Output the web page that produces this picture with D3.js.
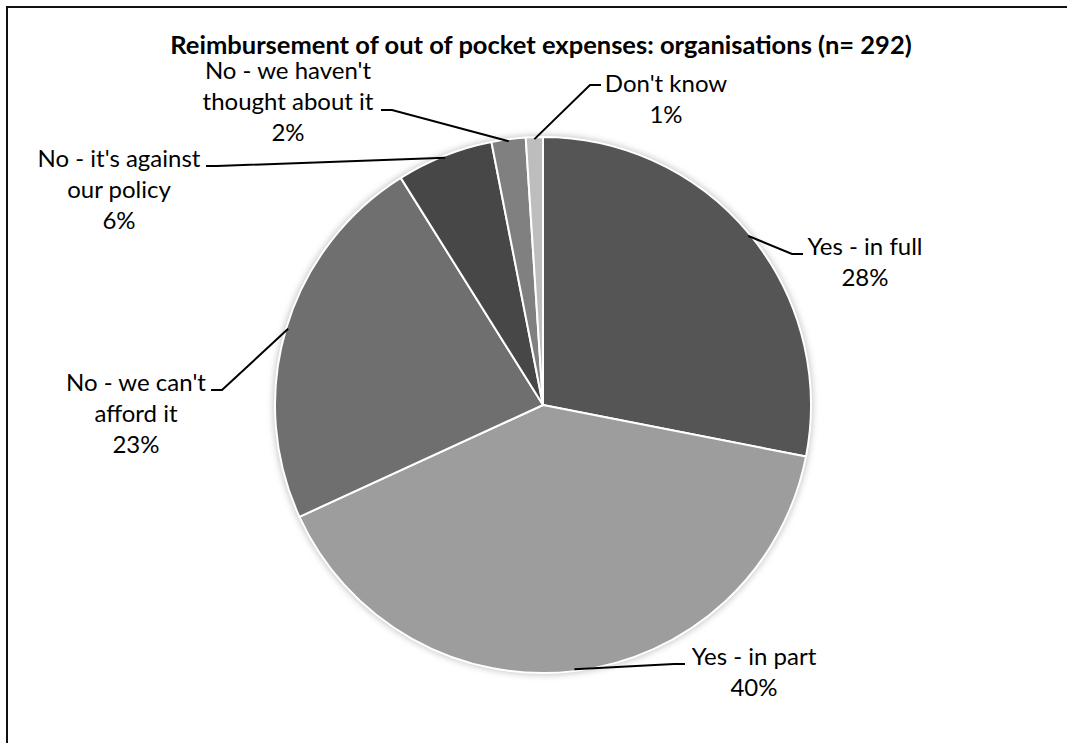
<!DOCTYPE html>
<html>
<head>
<meta charset="utf-8">
<script src="https://cdn.jsdelivr.net/npm/d3@7"></script>
<style>
  html, body { margin: 0; padding: 0; background: #fff; overflow: hidden; }
  svg { display: block; }
  text { font-family: Lato, "Open Sans", sans-serif; fill: #000; }
</style>
</head>
<body>
<svg id="chart" width="1067" height="743"></svg>
<script>
// ---- data ----
const title = "Reimbursement of out of pocket expenses: organisations (n= 292)";
const categories = [
  "Yes - in full",
  "Yes - in part",
  "No - we can't afford it",
  "No - it's against our policy",
  "No - we haven't thought about it",
  "Don't know"
];
const labelLines = [
  ["Yes - in full"],
  ["Yes - in part"],
  ["No - we can't", "afford it"],
  ["No - it's against", "our policy"],
  ["No - we haven't", "thought about it"],
  ["Don't know"]
];
const counts = [82, 117, 67, 17, 6, 3];
const colors = ["#555555", "#9d9d9d", "#6f6f6f", "#474747", "#808080", "#bdbdbd"];

// ---- layout (label placement) ----
const W = 1067, H = 743;
const cx = 543, cy = 405, R = 268;
// text centre x, first baseline y, end point of leader (x,y), side the text sits on
const labelLayout = [
  { tx: 865, ty: 255, ex: 803, ey: 254, side: "right" },
  { tx: 754, ty: 665, ex: 685, ey: 664, side: "right" },
  { tx: 136, ty: 391, ex: 211, ey: 390, side: "left" },
  { tx: 119, ty: 167, ex: 206, ey: 166, side: "left" },
  { tx: 288, ty: 79, ex: 381, ey: 110, side: "left" },
  { tx: 666, ty: 92, ex: 601, ey: 85, side: "right" }
];
const lineH = 31;

const svg = d3.select("#chart");

// border (right and bottom edges lie outside the picture)
svg.append("rect")
  .attr("x", 7).attr("y", 7)
  .attr("width", W + 200).attr("height", H + 200)
  .attr("fill", "#fff")
  .attr("stroke", "#111").attr("stroke-width", 2);

// title
svg.append("text")
  .attr("x", 541).attr("y", 54)
  .attr("text-anchor", "middle")
  .style("font-weight", "bold")
  .style("font-size", "25.5px")
  .text(title);

// shadow filter
const defs = svg.append("defs");
const f = defs.append("filter").attr("id", "glow")
  .attr("x", "-10%").attr("y", "-10%").attr("width", "120%").attr("height", "120%");
f.append("feGaussianBlur").attr("stdDeviation", 3);

const total = d3.sum(counts);
const pie = d3.pie().sort(null).value(d => d)(counts);
const arc = d3.arc().innerRadius(0).outerRadius(R);

const g = svg.append("g").attr("transform", `translate(${cx},${cy})`);

g.append("circle").attr("r", R + 2).attr("fill", "#c8c8c8").attr("filter", "url(#glow)");

g.selectAll("path.slice")
  .data(pie)
  .join("path")
  .attr("class", "slice")
  .attr("d", arc)
  .attr("fill", (d, i) => colors[i])
  .attr("stroke", "#fff")
  .attr("stroke-width", 2)
  .attr("stroke-linejoin", "round");

// leader lines + labels
const leaderR = R - 2;
pie.forEach((d, i) => {
  const L = labelLayout[i];
  const mid = (d.startAngle + d.endAngle) / 2;
  const sx = cx + leaderR * Math.sin(mid);
  const sy = cy - leaderR * Math.cos(mid);
  const elbowX = L.side === "right" ? L.ex - 11 : L.ex + 11;
  svg.append("path")
    .attr("d", d3.line()([[sx, sy], [elbowX, L.ey], [L.ex, L.ey]]))
    .attr("fill", "none")
    .attr("stroke", "#000")
    .attr("stroke-width", 2);

  const lines = labelLines[i].concat([Math.round(counts[i] / total * 100) + "%"]);
  const t = svg.append("text")
    .attr("text-anchor", "middle")
    .style("font-size", "24px");
  lines.forEach((s, k) => {
    t.append("tspan").attr("x", L.tx).attr("y", L.ty + k * lineH).text(s);
  });
});
</script>
</body>
</html>
